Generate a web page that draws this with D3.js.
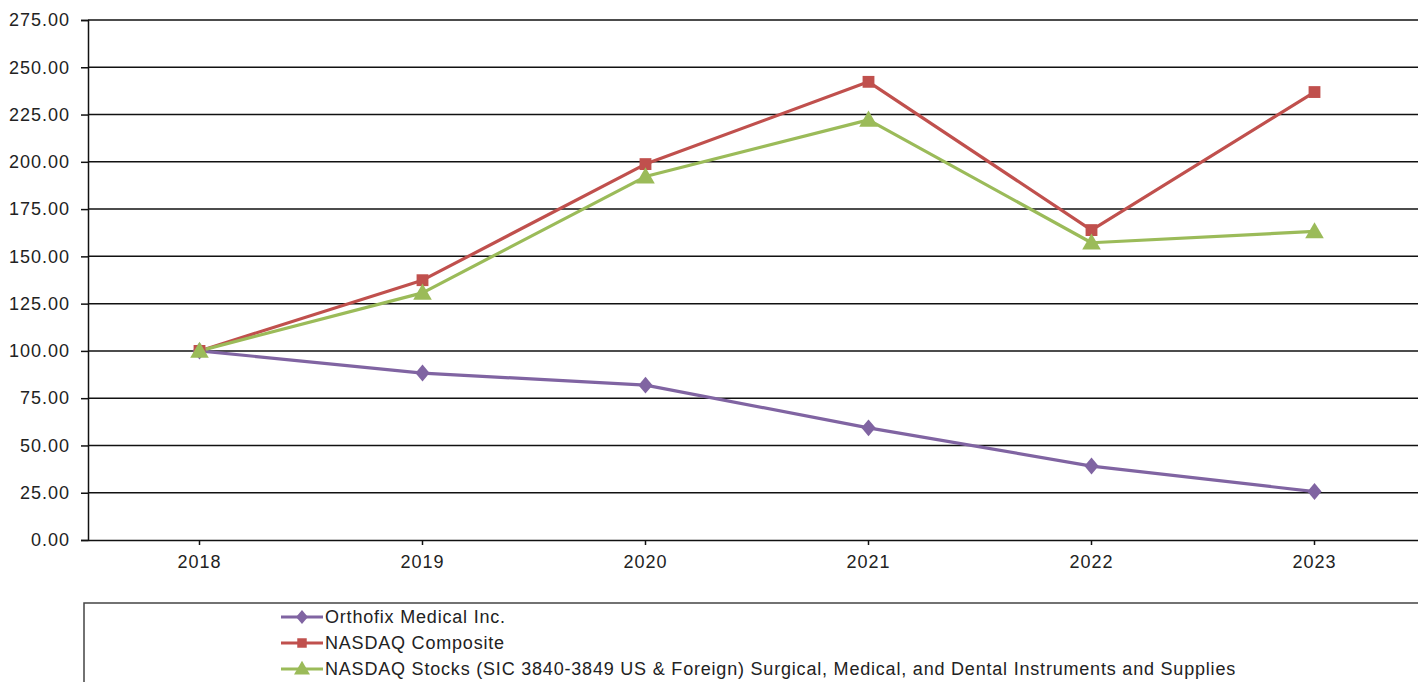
<!DOCTYPE html>
<html><head><meta charset="utf-8">
<script src="https://cdn.jsdelivr.net/npm/d3@7"></script>
<style>body{margin:0;background:#fff;}svg{display:block;font-family:"Liberation Sans",Arial,sans-serif;}</style>
</head><body>
<svg id="c" width="1418" height="682"></svg>
<script>
const years = ["2018","2019","2020","2021","2022","2023"];
const yTicks = [0,25,50,75,100,125,150,175,200,225,250,275];
const seriesNames = ["Orthofix Medical Inc.","NASDAQ Composite","NASDAQ Stocks (SIC 3840-3849 US & Foreign) Surgical, Medical, and Dental Instruments and Supplies"];
const orthofix = [100, 88.3, 81.9, 59.3, 39.1, 25.6];
const nasdaq = [100, 137.4, 198.8, 242.3, 163.9, 236.9];
const surgical = [100, 130.7, 192.2, 222.2, 157.2, 163.2];
const colors = ["#8064A2","#C0504D","#9BBB59"];
const symbols = [d3.symbolSquare, d3.symbolSquare, d3.symbolTriangle];
const symTf = ["scale(1,1.2) rotate(45)", "", ""];
const symSizes = [100, 140, 150];

const svg = d3.select("#c");
const mLeft = 88, mRight = 1426, mTop = 20, mBottom = 540;
const x = d3.scaleBand().domain(years).range([mLeft, mRight]);
const y = d3.scaleLinear().domain([0,275]).range([mBottom, mTop]);

// gridlines
svg.append("g").selectAll("line").data(yTicks.filter(t=>t>0)).join("line")
  .attr("x1", mLeft).attr("x2", mRight)
  .attr("y1", d=>y(d)).attr("y2", d=>y(d))
  .attr("stroke", "#111").attr("stroke-width", 1.5);

// y axis
const ya = svg.append("g").attr("transform", `translate(${mLeft},0)`)
  .call(d3.axisLeft(y).tickValues(yTicks).tickFormat(d3.format(".2f")).tickSize(7).tickPadding(11));
ya.select(".domain").attr("stroke","#111").attr("stroke-width",1.5);
ya.selectAll(".tick line").attr("stroke","#111").attr("stroke-width",1.5);
ya.selectAll("text").attr("font-size", 18).attr("letter-spacing", 1).attr("fill", "#222");

// x axis
const xa = svg.append("g").attr("transform", `translate(0,${mBottom})`)
  .call(d3.axisBottom(x).tickSize(5).tickSizeOuter(0).tickPadding(10));
xa.select(".domain").attr("stroke","#111").attr("stroke-width",1.5);
xa.selectAll(".tick line").attr("stroke","#111").attr("stroke-width",1.5);
xa.selectAll("text").attr("font-size", 18).attr("letter-spacing", 1).attr("fill", "#222");

const data = [orthofix, nasdaq, surgical];
const line = d3.line().x((d,i)=>x(years[i]) + x.bandwidth()/2).y(d=>y(d));
data.forEach((s, k) => {
  svg.append("path").datum(s).attr("d", line).attr("fill","none")
    .attr("stroke", colors[k]).attr("stroke-width", 3.2).attr("stroke-linejoin","round");
});
data.forEach((s, k) => {
  svg.append("g").selectAll("path").data(s).join("path")
    .attr("transform", (d,i)=>`translate(${x(years[i]) + x.bandwidth()/2},${y(d) + (k===2?1.5:0)}) ${symTf[k]}`)
    .attr("d", d3.symbol(symbols[k], symSizes[k]))
    .attr("fill", colors[k]);
});

// legend
svg.append("rect").attr("x", 84).attr("y", 603).attr("width", 1400).attr("height", 120)
  .attr("fill","none").attr("stroke","#444").attr("stroke-width",1.5);
const lg = svg.append("g").selectAll("g").data(seriesNames).join("g")
  .attr("transform", (d,i)=>`translate(281,${617 + i*26})`);
lg.append("line").attr("x1",0).attr("x2",42).attr("y1",0).attr("y2",0)
  .attr("stroke",(d,i)=>colors[i]).attr("stroke-width",3.2);
lg.append("path").attr("transform", (d,i)=>`translate(21,${i===2?1:0}) ${symTf[i]}`)
  .attr("d",(d,i)=>d3.symbol(symbols[i], [70,90,110][i])())
  .attr("fill",(d,i)=>colors[i]);
lg.append("text").attr("x",44).attr("y",0).attr("dy","0.35em")
  .attr("font-size",18).attr("letter-spacing",0.8).attr("fill","#222").text(d=>d);
</script>
</body></html>
